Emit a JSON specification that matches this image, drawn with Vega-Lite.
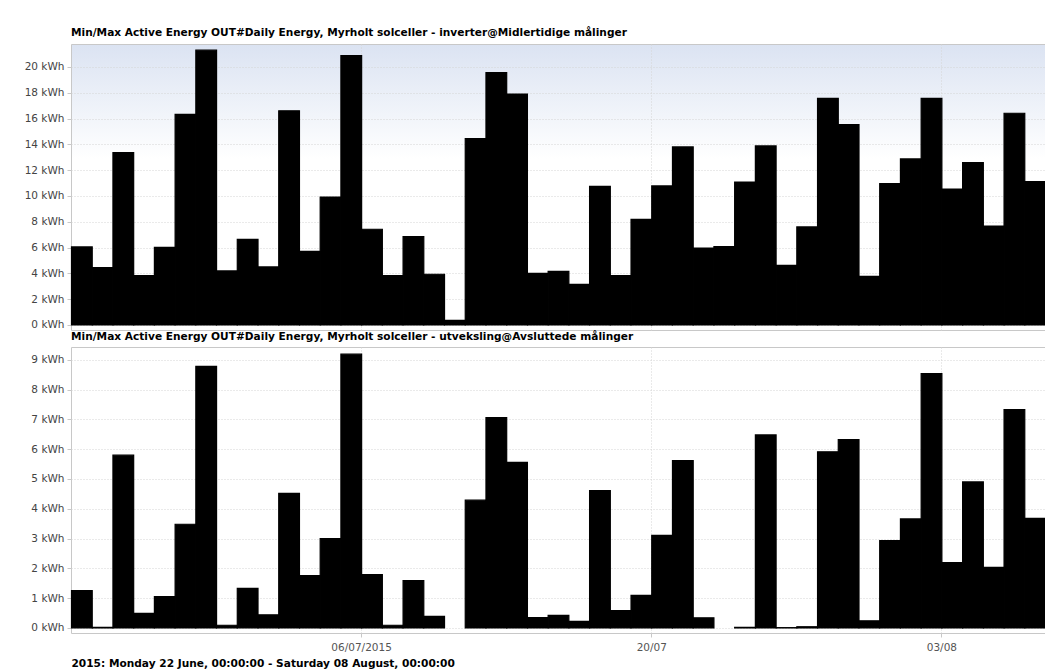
{
  "$schema": "https://vega.github.io/schema/vega-lite/v6.json",
  "autosize": {"type": "pad"},
  "padding": {"left": 23, "top": 27, "right": 0, "bottom": 4},
  "background": "white",
  "spacing": 17,
  "bounds": "flush",
  "config": {
    "font": "DejaVu Sans",
    "view": {"stroke": "#c8c8c8"},
    "axis": {
      "gridColor": "#d4d4d4",
      "gridDash": [1, 2],
      "gridWidth": 1,
      "domain": false,
      "tickColor": "#c8c8c8",
      "tickSize": 4,
      "labelFont": "DejaVu Sans",
      "labelFontSize": 10.5,
      "labelColor": "#444"
    },
    "title": {"font": "DejaVu Sans", "fontSize": 10.6, "fontWeight": "bold", "color": "#000", "anchor": "start", "frame": "group", "baseline": "alphabetic", "offset": 5}
  },
  "datasets": {
    "inverter": [
      {"date": "2015-06-22", "kWh": 6.05}, {"date": "2015-06-23", "kWh": 4.44}, {"date": "2015-06-24", "kWh": 13.36},
      {"date": "2015-06-25", "kWh": 3.82}, {"date": "2015-06-26", "kWh": 6.02}, {"date": "2015-06-27", "kWh": 16.33},
      {"date": "2015-06-28", "kWh": 21.3}, {"date": "2015-06-29", "kWh": 4.19}, {"date": "2015-06-30", "kWh": 6.64},
      {"date": "2015-07-01", "kWh": 4.5}, {"date": "2015-07-02", "kWh": 16.6}, {"date": "2015-07-03", "kWh": 5.71},
      {"date": "2015-07-04", "kWh": 9.92}, {"date": "2015-07-05", "kWh": 20.88}, {"date": "2015-07-06", "kWh": 7.42},
      {"date": "2015-07-07", "kWh": 3.82}, {"date": "2015-07-08", "kWh": 6.85}, {"date": "2015-07-09", "kWh": 3.93},
      {"date": "2015-07-10", "kWh": 0.36}, {"date": "2015-07-11", "kWh": 14.44}, {"date": "2015-07-12", "kWh": 19.56},
      {"date": "2015-07-13", "kWh": 17.9}, {"date": "2015-07-14", "kWh": 4.0}, {"date": "2015-07-15", "kWh": 4.16},
      {"date": "2015-07-16", "kWh": 3.15}, {"date": "2015-07-17", "kWh": 10.75}, {"date": "2015-07-18", "kWh": 3.82},
      {"date": "2015-07-19", "kWh": 8.19}, {"date": "2015-07-20", "kWh": 10.78}, {"date": "2015-07-21", "kWh": 13.8},
      {"date": "2015-07-22", "kWh": 5.96}, {"date": "2015-07-23", "kWh": 6.07}, {"date": "2015-07-24", "kWh": 11.08},
      {"date": "2015-07-25", "kWh": 13.88}, {"date": "2015-07-26", "kWh": 4.62}, {"date": "2015-07-27", "kWh": 7.6},
      {"date": "2015-07-28", "kWh": 17.57}, {"date": "2015-07-29", "kWh": 15.53}, {"date": "2015-07-30", "kWh": 3.77},
      {"date": "2015-07-31", "kWh": 10.96}, {"date": "2015-08-01", "kWh": 12.87}, {"date": "2015-08-02", "kWh": 17.57},
      {"date": "2015-08-03", "kWh": 10.54}, {"date": "2015-08-04", "kWh": 12.58}, {"date": "2015-08-05", "kWh": 7.67},
      {"date": "2015-08-06", "kWh": 16.41}, {"date": "2015-08-07", "kWh": 11.11}
    ],
    "utveksling": [
      {"date": "2015-06-22", "kWh": 1.25}, {"date": "2015-06-23", "kWh": 0.02}, {"date": "2015-06-24", "kWh": 5.8},
      {"date": "2015-06-25", "kWh": 0.49}, {"date": "2015-06-26", "kWh": 1.05}, {"date": "2015-06-27", "kWh": 3.48},
      {"date": "2015-06-28", "kWh": 8.78}, {"date": "2015-06-29", "kWh": 0.09}, {"date": "2015-06-30", "kWh": 1.33},
      {"date": "2015-07-01", "kWh": 0.44}, {"date": "2015-07-02", "kWh": 4.52}, {"date": "2015-07-03", "kWh": 1.76},
      {"date": "2015-07-04", "kWh": 3.0}, {"date": "2015-07-05", "kWh": 9.19}, {"date": "2015-07-06", "kWh": 1.79},
      {"date": "2015-07-07", "kWh": 0.09}, {"date": "2015-07-08", "kWh": 1.59}, {"date": "2015-07-09", "kWh": 0.39},
      {"date": "2015-07-11", "kWh": 4.29}, {"date": "2015-07-12", "kWh": 7.06},
      {"date": "2015-07-13", "kWh": 5.56}, {"date": "2015-07-14", "kWh": 0.35}, {"date": "2015-07-15", "kWh": 0.42},
      {"date": "2015-07-16", "kWh": 0.22}, {"date": "2015-07-17", "kWh": 4.61}, {"date": "2015-07-18", "kWh": 0.58},
      {"date": "2015-07-19", "kWh": 1.09}, {"date": "2015-07-20", "kWh": 3.11}, {"date": "2015-07-21", "kWh": 5.62},
      {"date": "2015-07-22", "kWh": 0.34}, {"date": "2015-07-24", "kWh": 0.02},
      {"date": "2015-07-25", "kWh": 6.48}, {"date": "2015-07-26", "kWh": 0.01}, {"date": "2015-07-27", "kWh": 0.04},
      {"date": "2015-07-28", "kWh": 5.91}, {"date": "2015-07-29", "kWh": 6.32}, {"date": "2015-07-30", "kWh": 0.24},
      {"date": "2015-07-31", "kWh": 2.93}, {"date": "2015-08-01", "kWh": 3.66}, {"date": "2015-08-02", "kWh": 8.54},
      {"date": "2015-08-03", "kWh": 2.19}, {"date": "2015-08-04", "kWh": 4.9}, {"date": "2015-08-05", "kWh": 2.03},
      {"date": "2015-08-06", "kWh": 7.33}, {"date": "2015-08-07", "kWh": 3.68}
    ]
  },
  "vconcat": [
    {
      "data": {"name": "inverter"},
      "width": 974,
      "height": 286,
      "title": {"text": "Min/Max Active Energy OUT#Daily Energy, Myrholt solceller - inverter@Midlertidige målinger"},
      "view": {
        "stroke": "#c8c8c8",
        "fill": {"gradient": "linear", "x1": 0, "y1": 0, "x2": 0, "y2": 1,
          "stops": [{"offset": 0, "color": "#dbe3f2"}, {"offset": 0.4, "color": "#ffffff"}, {"offset": 1, "color": "#ffffff"}]}
      },
      "mark": {"type": "bar", "fill": "#000", "stroke": "#000", "strokeWidth": 1.2, "binSpacing": 0},
      "encoding": {
        "x": {
          "field": "date", "type": "temporal", "timeUnit": "utcyearmonthdate",
          "scale": {"domain": [{"year": 2015, "month": 6, "date": 22, "utc": true}, {"year": 2015, "month": 8, "date": 8, "utc": true}]},
          "axis": {"labels": false, "ticks": false, "title": null, "grid": true,
            "values": [{"year": 2015, "month": 7, "date": 6, "utc": true}, {"year": 2015, "month": 7, "date": 20, "utc": true}, {"year": 2015, "month": 8, "date": 3, "utc": true}]}
        },
        "y": {
          "field": "kWh", "type": "quantitative",
          "scale": {"domain": [-0.39, 21.78], "nice": false, "zero": false},
          "axis": {"title": null, "values": [0, 2, 4, 6, 8, 10, 12, 14, 16, 18, 20], "labelExpr": "datum.value + ' kWh'", "labelPadding": 3}
        }
      }
    },
    {
      "data": {"name": "utveksling"},
      "width": 974,
      "height": 286,
      "title": {"text": "Min/Max Active Energy OUT#Daily Energy, Myrholt solceller - utveksling@Avsluttede målinger", "offset": 4},
      "view": {"stroke": "#c8c8c8", "fill": "#ffffff"},
      "mark": {"type": "bar", "fill": "#000", "stroke": "#000", "strokeWidth": 1.2, "binSpacing": 0},
      "encoding": {
        "x": {
          "field": "date", "type": "temporal", "timeUnit": "utcyearmonthdate",
          "scale": {"domain": [{"year": 2015, "month": 6, "date": 22, "utc": true}, {"year": 2015, "month": 8, "date": 8, "utc": true}]},
          "axis": {
            "grid": true,
            "values": [{"year": 2015, "month": 7, "date": 6, "utc": true}, {"year": 2015, "month": 7, "date": 20, "utc": true}, {"year": 2015, "month": 8, "date": 3, "utc": true}],
            "labelExpr": "utcFormat(datum.value, (utcdate(datum.value) == 6 && utcmonth(datum.value) == 6) ? '%d/%m/%Y' : '%d/%m')",
            "labelColor": "#555",
            "labelPadding": 5,
            "title": "2015: Monday 22 June, 00:00:00 - Saturday 08 August, 00:00:00",
            "titleAnchor": "start",
            "titleAlign": "left",
            "titleFont": "DejaVu Sans",
            "titleFontSize": 10.6,
            "titleFontWeight": "bold",
            "titleColor": "#000",
            "titlePadding": 6
          }
        },
        "y": {
          "field": "kWh", "type": "quantitative",
          "scale": {"domain": [-0.17, 9.43], "nice": false, "zero": false},
          "axis": {"title": null, "values": [0, 1, 2, 3, 4, 5, 6, 7, 8, 9], "labelExpr": "datum.value + ' kWh'", "labelPadding": 3}
        }
      }
    }
  ]
}
